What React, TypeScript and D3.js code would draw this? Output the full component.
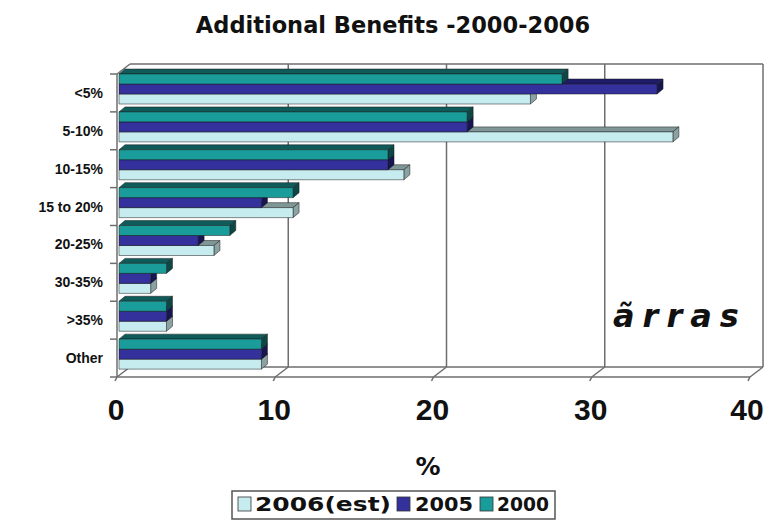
import React from 'react';
import * as d3 from 'd3';

const categories = ['<5%', '5-10%', '10-15%', '15 to 20%', '20-25%', '30-35%', '>35%', 'Other'];
const v2006 = [26, 35, 18, 11, 6, 2, 3, 9];
const v2005 = [34, 22, 17, 9, 5, 2, 3, 9];
const v2000 = [28, 22, 17, 11, 7, 3, 3, 9];
const seriesNames = ['2006(est)', '2005', '2000'];
const xTicks = [0, 10, 20, 30, 40];

const W = 766, H = 521;
const FRONT_L = 117, FRONT_R = 750, FLOOR_Y = 377, TOP_Y = 74;
const DX = 13, DY = -10; // wall depth
const BDX = 6, BDY = -5; // bar depth

const colors = [
  { front: '#c6ecef', top: '#7f9696', side: '#8aa2a2' },
  { front: '#34319c', top: '#1e1c68', side: '#171552' },
  { front: '#1a9c9a', top: '#0f5b5a', side: '#0c4645' },
];

export default function App() {
  const x = d3.scaleLinear().domain([0, 40]).range([FRONT_L, FRONT_R]);
  const xb = (v: number) => x(v) + 2; // bar front plane
  const y = d3.scaleBand<string>().domain(categories).range([TOP_Y, FLOOR_Y]).padding(0);
  const inner = d3.scaleBand<number>().domain([2, 1, 0]).range([0, 30]).padding(0);
  const series = [v2006, v2005, v2000];
  const frame = '#6e6e6e';
  const font = '"DejaVu Sans", Verdana, sans-serif';
  const lfont = '"Liberation Sans", Arial, sans-serif';

  const bars: JSX.Element[] = [];
  categories.forEach((c, ci) => {
    [0, 1, 2].forEach((si) => {
      const v = series[si][ci];
      const x0 = xb(0), x1 = xb(v);
      const yt = (y(c) as number) + (inner(si) as number);
      const h = inner.bandwidth();
      const col = colors[si];
      const pts = (a: number[][]) => a.map((p) => p.join(',')).join(' ');
      bars.push(
        <g key={`${ci}-${si}`} stroke="#1a1a1a" strokeWidth={0.5} strokeLinejoin="round">
          <polygon points={pts([[x0, yt], [x1, yt], [x1 + BDX, yt + BDY], [x0 + BDX, yt + BDY]])} fill={col.top} />
          <polygon points={pts([[x1, yt], [x1, yt + h], [x1 + BDX, yt + h + BDY], [x1 + BDX, yt + BDY]])} fill={col.side} />
          <rect x={x0} y={yt} width={x1 - x0} height={h} fill={col.front} />
        </g>
      );
    });
  });

  const legendItems = [
    { i: 0, sx: 238, tx: 255, len: 136 },
    { i: 1, sx: 397, tx: 415, len: 58 },
    { i: 2, sx: 480, tx: 497, len: 52 },
  ];

  return (
    <svg width={W} height={H} style={{ position: 'absolute', left: 0, top: 0, background: '#fff' }}>
      <text x={393} y={33} textAnchor="middle" fontFamily={font} fontWeight="bold" fontSize={22.5} fill="#111">
        Additional Benefits -2000-2006
      </text>
      {/* back wall & floor */}
      <g fill="none" stroke={frame} strokeWidth={1.5}>
        <line x1={x(0) + DX} y1={TOP_Y + DY} x2={x(40) + DX} y2={TOP_Y + DY} />
        <line x1={x(40) + DX} y1={TOP_Y + DY} x2={x(40) + DX} y2={FLOOR_Y + DY} />
        <line x1={x(0) + DX} y1={FLOOR_Y + DY} x2={x(40) + DX} y2={FLOOR_Y + DY} />
        <line x1={x(0)} y1={TOP_Y} x2={x(0) + DX} y2={TOP_Y + DY} />
        {xTicks.slice(1, 4).map((t) => (
          <line key={t} x1={x(t) + DX} y1={TOP_Y + DY} x2={x(t) + DX} y2={FLOOR_Y + DY} />
        ))}
        {xTicks.map((t) => (
          <line key={'d' + t} x1={x(t)} y1={FLOOR_Y} x2={x(t) + DX} y2={FLOOR_Y + DY} />
        ))}
        <line x1={x(0)} y1={FLOOR_Y} x2={x(40)} y2={FLOOR_Y} />
        <line x1={x(0)} y1={TOP_Y} x2={x(0)} y2={FLOOR_Y} />
        {categories.map((c) => (
          <line key={c} x1={x(0) - 7} y1={y(c) as number} x2={x(0)} y2={y(c) as number} />
        ))}
        <line x1={x(0) - 7} y1={FLOOR_Y} x2={x(0)} y2={FLOOR_Y} />
        {xTicks.map((t) => (
          <line key={'t' + t} x1={x(t) - 2} y1={FLOOR_Y + 4} x2={x(t)} y2={FLOOR_Y} />
        ))}
      </g>
      {bars}
      {/* category labels */}
      {categories.map((c) => (
        <text key={c} x={103} y={(y(c) as number) + y.bandwidth() / 2 + 5} textAnchor="end"
          fontFamily={lfont} fontWeight="bold" fontSize={14} fill="#111">
          {c}
        </text>
      ))}
      {/* x tick labels */}
      {xTicks.map((t) => (
        <text key={t} x={t === 40 ? x(t) - 3 : x(t) - 1} y={420} textAnchor="middle" fontFamily={lfont} fontWeight="bold" fontSize={30} fill="#111">
          {t}
        </text>
      ))}
      <text x={428} y={475} textAnchor="middle" fontFamily={font} fontWeight="bold" fontSize={25} fill="#111">%</text>
      {/* logo */}
      <text x={613} y={327} fontFamily={font} fontStyle="italic" fontWeight="bold" fontSize={32} letterSpacing={8} fill="#111">
        ãrras
      </text>
      {/* legend */}
      <g>
        <rect x={232} y={491} width={323} height={28} fill="#fff" stroke="#555" strokeWidth={1.5} />
        {legendItems.map(({ i, sx, tx, len }) => (
          <g key={i}>
            <rect x={sx} y={497} width={13} height={14} fill={colors[i].front} stroke="#333" strokeWidth={0.8} />
            <text x={tx} y={511} fontFamily={font} fontWeight="bold" fontSize={20} fill="#111"
              textLength={len} lengthAdjust="spacingAndGlyphs">{seriesNames[i]}</text>
          </g>
        ))}
      </g>
    </svg>
  );
}
